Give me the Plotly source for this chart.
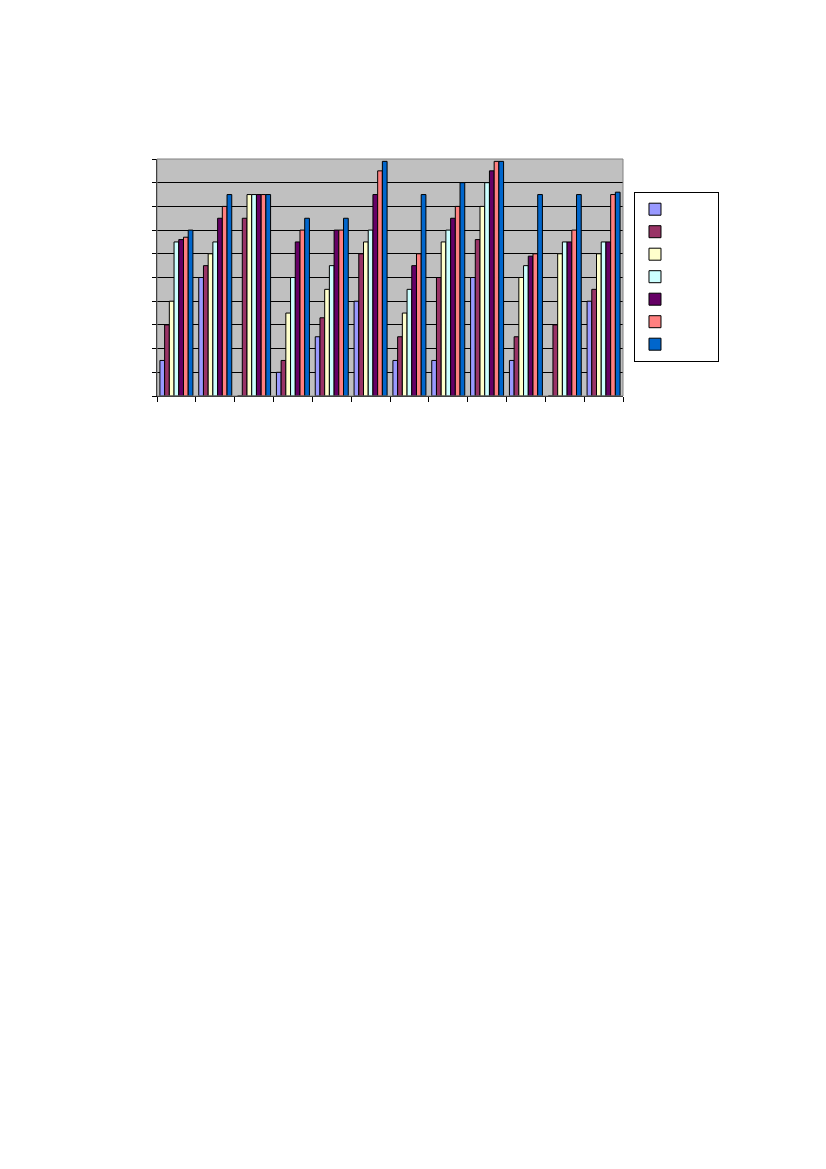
import plotly.graph_objects as go

# 12 groups x 7 series (axis 0..10)
categories = list(range(12))
# the reference legend shows swatches only; blank names keep its box width
series_names = ["\u00a0" * 9] * 7
s1 = [1.5, 5.0, 0.0, 1.0, 2.5, 4.0, 1.5, 1.5, 5.0, 1.5, 0.0, 4.0]
s2 = [3.0, 5.5, 7.5, 1.5, 3.3, 6.0, 2.5, 5.0, 6.6, 2.5, 3.0, 4.5]
s3 = [4.0, 6.0, 8.5, 3.5, 4.5, 6.5, 3.5, 6.5, 8.0, 5.0, 6.0, 6.0]
s4 = [6.5, 6.5, 8.5, 5.0, 5.5, 7.0, 4.5, 7.0, 9.0, 5.5, 6.5, 6.5]
s5 = [6.6, 7.5, 8.5, 6.5, 7.0, 8.5, 5.5, 7.5, 9.5, 5.9, 6.5, 6.5]
s6 = [6.7, 8.0, 8.5, 7.0, 7.0, 9.5, 6.0, 8.0, 9.9, 6.0, 7.0, 8.5]
s7 = [7.0, 8.5, 8.5, 7.5, 7.5, 9.9, 8.5, 9.0, 9.9, 8.5, 8.5, 8.6]
colors = ["#9999FF", "#993366", "#FFFFCC", "#CCFFFF", "#660066", "#FF8080", "#0066CC"]

fig = go.Figure()
for name, vals, col in zip(series_names, [s1, s2, s3, s4, s5, s6, s7], colors):
    fig.add_trace(go.Bar(
        x=categories, y=vals, name=name,
        marker=dict(color=col, line=dict(color="black", width=1)),
    ))

# grey border round the plot area (top / right)
fig.add_shape(type="rect", xref="paper", yref="paper", x0=0, y0=0, x1=1, y1=1,
              line=dict(color="#808080", width=1), layer="above")

fig.update_layout(
    width=826, height=1169,
    margin=dict(l=149, r=211, t=151, b=781),
    paper_bgcolor="white", plot_bgcolor="#C0C0C0",
    barmode="group", bargap=0.15, bargroupgap=0,
    font=dict(family="Arial, Liberation Sans", size=15, color="black"),
    showlegend=True,
    legend=dict(
        x=1.0236, y=0.861, xanchor="left", yanchor="top",
        bgcolor="white", bordercolor="black", borderwidth=1,
        itemwidth=30, tracegroupgap=0,
    ),
    xaxis=dict(
        range=[-0.5, 11.5], tickmode="array",
        tickvals=[i - 0.5 for i in range(13)],
        showticklabels=False, ticks="outside", ticklen=5, tickcolor="black",
        showgrid=False, zeroline=False, showline=True, linecolor="black",
    ),
    yaxis=dict(
        range=[0, 10], dtick=1, showticklabels=False,
        ticks="outside", ticklen=4, tickcolor="black",
        showgrid=True, gridcolor="black", gridwidth=1,
        zeroline=False, showline=True, linecolor="black",
    ),
)

fig.write_html("out.html")
